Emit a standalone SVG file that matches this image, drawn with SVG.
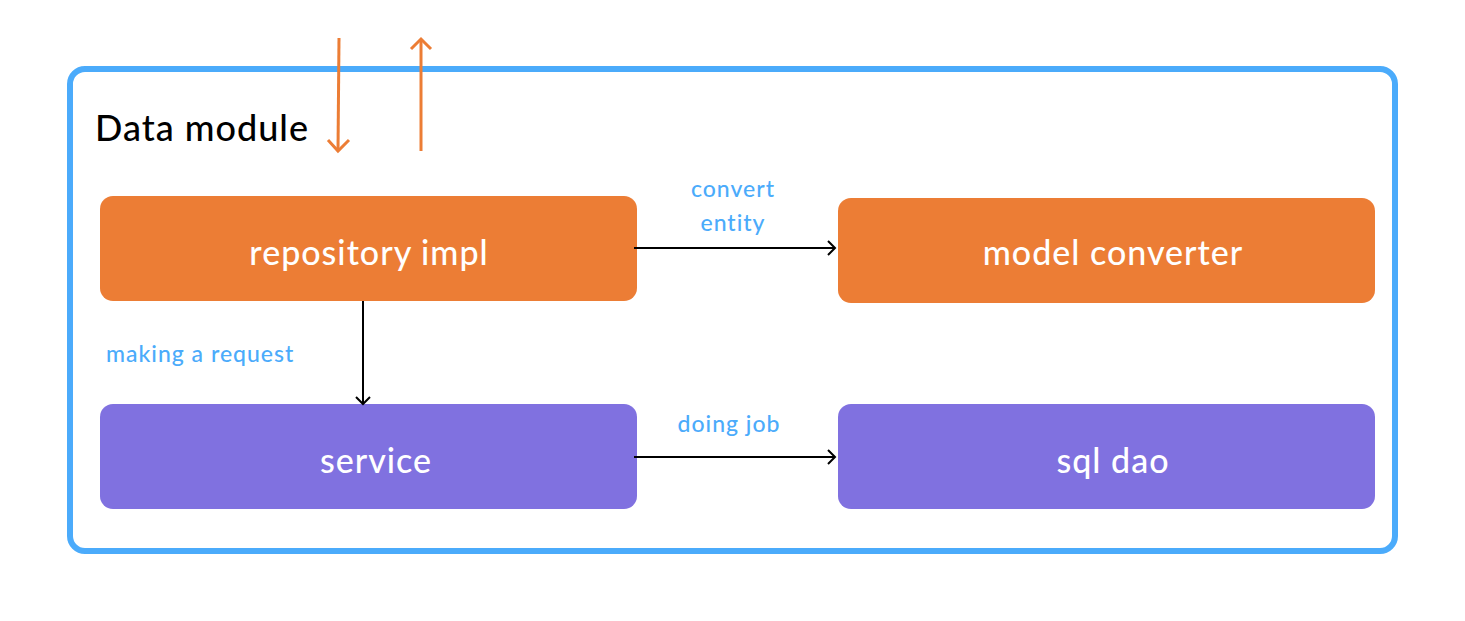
<svg xmlns="http://www.w3.org/2000/svg" width="1465" height="621" viewBox="0 0 1465 621">
<defs>
<style>
.frame{fill:#fff;stroke:#4BABFB;stroke-width:6}
.orange{fill:#EC7D35}
.purple{fill:#8071E0}
.btxt{font-family:Lato,"Open Sans",sans-serif;font-size:34px;font-weight:500;letter-spacing:1px;fill:#fff;text-anchor:middle;dominant-baseline:central}
.lbl{font-family:Lato,"Open Sans",sans-serif;font-size:23px;font-weight:500;letter-spacing:1px;fill:#4BABFB}
.edge{stroke:#000;stroke-width:2;fill:none}
.oedge{stroke:#EC7D35;stroke-width:3;fill:none}
</style>
</defs>
<rect x="0" y="0" width="1465" height="621" fill="#fff"/>
<rect class="frame" x="70" y="69" width="1325" height="482" rx="15"/>
<text x="95" y="141" font-family="Lato,'Open Sans',sans-serif" font-size="36" font-weight="500" letter-spacing="1" fill="#000">Data module</text>
<g id="node-repository-impl">
<rect class="orange" x="100" y="196" width="537" height="105" rx="13"/>
<text class="btxt" x="369" y="251">repository impl</text>
</g>
<g id="node-model-converter">
<rect class="orange" x="838" y="198" width="537" height="105" rx="13"/>
<text class="btxt" x="1113" y="251">model converter</text>
</g>
<g id="node-service">
<rect class="purple" x="100" y="404" width="537" height="105" rx="13"/>
<text class="btxt" x="376" y="459">service</text>
</g>
<g id="node-sql-dao">
<rect class="purple" x="838" y="404" width="537" height="105" rx="13"/>
<text class="btxt" x="1113" y="459">sql dao</text>
</g>
<g id="connectors">
<path class="oedge" d="M339 38 L338 150"/>
<path class="oedge" d="M328 140 L338 151 L349 140"/>
<path class="oedge" d="M421 151 L421 39"/>
<path class="oedge" d="M411 49 L421 39 L431 49"/>
<path class="edge" d="M634 248 L835 248"/>
<path class="edge" d="M828 241 L835 248 L828 255"/>
<path class="edge" d="M634 457 L835 457"/>
<path class="edge" d="M828 450 L835 457 L828 464"/>
<path class="edge" d="M363 301 L363 404"/>
<path class="edge" d="M356 397 L363 404 L370 397"/>
</g>
<g id="labels">
<text class="lbl" x="733" y="197" text-anchor="middle">convert</text>
<text class="lbl" x="733" y="231" text-anchor="middle">entity</text>
<text class="lbl" x="106" y="362">making a request</text>
<text class="lbl" x="729" y="432" text-anchor="middle">doing job</text>
</g>
</svg>
